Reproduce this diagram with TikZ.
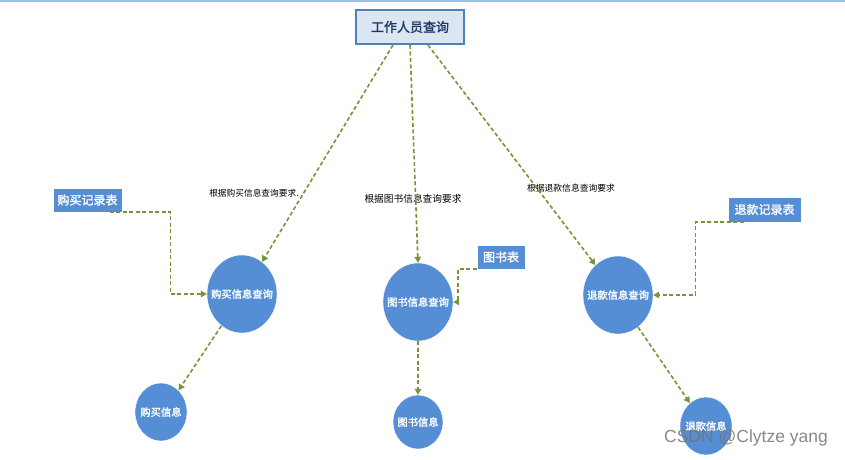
\documentclass[tikz,border=0pt]{standalone}
\usepackage{fontspec}
\setmainfont[AutoFakeBold=1.6]{Noto Sans CJK SC}
\newfontfamily\wmfont{Liberation Sans}
\usetikzlibrary{shapes.geometric,arrows.meta}
\definecolor{circfill}{HTML}{558ED5}
\definecolor{grn}{HTML}{77933C}
\definecolor{topfill}{HTML}{DCE6F2}
\definecolor{topdraw}{HTML}{4F81BD}
\definecolor{toptext}{HTML}{1F3864}
\definecolor{rule}{HTML}{8DC8EC}
\tikzset{
  topbox/.style={draw=topdraw, line width=2pt, fill=topfill, minimum width=108pt, minimum height=34pt, inner sep=0pt, text=toptext, font=\fontsize{13pt}{14pt}\selectfont\bfseries},
  tbl/.style={fill=circfill, draw=white, line width=0.4pt, inner sep=0pt, text=white, font=\fontsize{12pt}{13pt}\selectfont\bfseries},
  bub/.style={ellipse, fill=circfill, draw=white, line width=0.4pt, inner sep=0pt},
  bubtext/.style={label={[text=white, font=\fontsize{10.3pt}{11pt}\selectfont\bfseries]center:#1}},
  arr/.style={draw=grn, line width=1.6pt, dash pattern=on 4pt off 2.5pt, -{Triangle[length=6pt,width=6.5pt]}},
  lbl/.style={inner sep=0pt, text=black}
}
\begin{document}
\begin{tikzpicture}[x=1pt,y=-1pt]
\useasboundingbox (0,0) rectangle (845,459);
\coordinate (rl) at (0,1);
\coordinate (rr) at (845,1);
\draw[rule, line width=1.5pt] (rl) -- (rr);

\node[topbox] (top) at (410,27) {工作人员查询};

\node[tbl, minimum width=69pt, minimum height=24pt] (gm) at (87.5,200) {购买记录表};
\node[tbl, minimum width=48pt, minimum height=24pt] (ts) at (501,257) {图书表};
\node[tbl, minimum width=73pt, minimum height=25pt] (tk) at (764.5,209.5) {退款记录表};

\node[bub, minimum width=70pt, minimum height=78pt, bubtext=购买信息查询] (gq) at (242,294) {};
\node[bub, minimum width=70pt, minimum height=78pt, bubtext=图书信息查询] (tq) at (418,302) {};
\node[bub, minimum width=70pt, minimum height=78pt, bubtext=退款信息查询] (kq) at (618,295) {};
\node[bub, minimum width=52pt, minimum height=58pt, bubtext=购买信息] (gi) at (161,412) {};
\node[bub, minimum width=50pt, minimum height=54pt, bubtext=图书信息] (ti) at (418,422) {};
\node[bub, minimum width=52pt, minimum height=58pt, bubtext=退款信息] (ki) at (706,426) {};

\node[lbl, font=\fontsize{8.7pt}{10pt}\selectfont] (l1) at (254,193) {根据购买信息查询要求.};
\node[lbl, font=\fontsize{9.7pt}{11pt}\selectfont] (l2) at (413,199) {根据图书信息查询要求};
\node[lbl, font=\fontsize{8.8pt}{10pt}\selectfont] (l3) at (571,188) {根据退款信息查询要求};

\draw[arr] ([xshift=-17pt]top.south) -- (gq.58);
\draw[arr] (top.south) -- (tq.north);
\draw[arr] ([xshift=18pt]top.south) -- (kq.127);

\draw[arr] ([xshift=22pt]gm.south) -- ++(61,0) |- (gq.west);
\draw[arr] (ts.south west) -- ++(-19,0) |- (tq.east);
\draw[arr] ([xshift=-21pt]tk.south) -- ++(-48,0) |- (kq.east);

\draw[arr] (gq.-123) -- (gi.51);
\draw[arr] (tq.south) -- (ti.north);
\draw[arr] (kq.-58) -- (ki.125);

\node[inner sep=0pt, text=black!55, opacity=0.85, font=\wmfont\fontsize{17.5pt}{19pt}\selectfont] (wm) at (746,438) {CSDN @Clytze yang};
\end{tikzpicture}
\end{document}
